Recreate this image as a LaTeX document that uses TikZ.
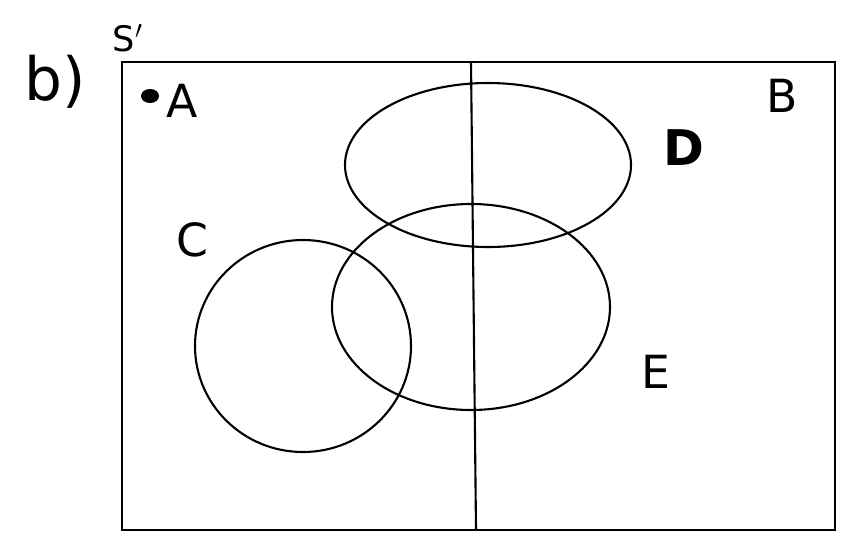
\documentclass[tikz,border=0pt]{standalone}
\usepackage{fontspec}
\setsansfont{DejaVu Sans}
\usepackage{tikz}
\usetikzlibrary{positioning}

\begin{document}
\begin{tikzpicture}[
            x=0.02cm, y=-0.02cm,
            setline/.style={line width=1.2pt, black},
            frame/.style={line width=1.3pt, black},
            setlabel/.style={font=\sffamily\fontsize{26}{30}\selectfont, inner sep=0pt},
            partlabel/.style={font=\sffamily\fontsize{34}{40}\selectfont, inner sep=0pt}
        ]
            \useasboundingbox (0,0) rectangle (847,538);

            % Universe S' and the split into A | B
            \draw[frame] (122,62) rectangle (835,530);
            \draw[setline] (471,62) -- (476,530);

            % Sets C, D and E
            \draw[setline] (488,165) ellipse [x radius=143, y radius=82];
            \draw[setline] (471,307) ellipse [x radius=139, y radius=103];
            \draw[setline] (303,346) ellipse [x radius=108, y radius=106];

            % Labels
            \node[partlabel] (part) at (55,82) {b)};
            \node[setlabel, font=\sffamily\fontsize{20}{24}\selectfont] (univ) at (128,38) {S$'$};
            \fill (150,96) circle [x radius=9, y radius=7];
            \node[setlabel] (labA) at (182,101) {A};
            \node[setlabel] (labB) at (782,96) {B};
            \node[setlabel] (labC) at (192,240) {C};
            \node[setlabel, font=\sffamily\bfseries\fontsize{28}{32}\selectfont] (labD) at (684,148) {D};
            \node[setlabel] (labE) at (656,372) {E};
        \end{tikzpicture}
\end{document}
